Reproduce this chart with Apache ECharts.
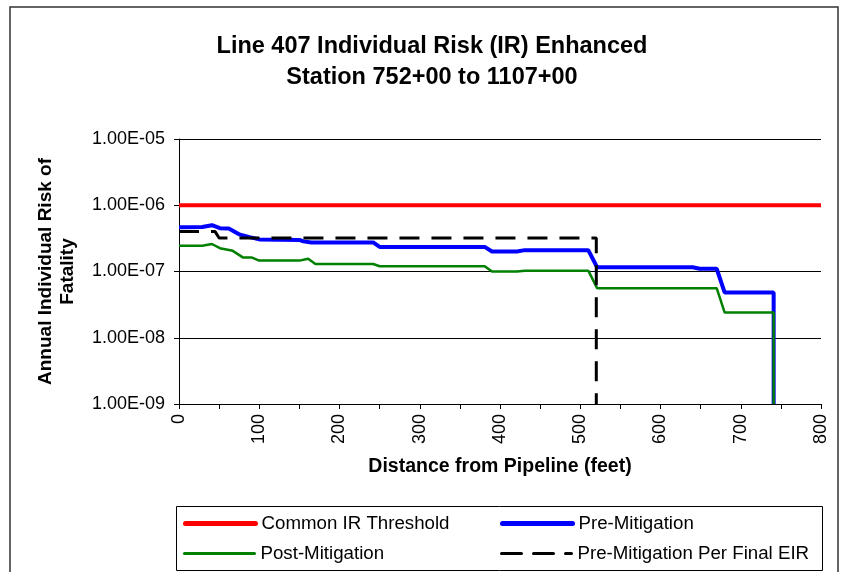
<!DOCTYPE html>
<html>
<head>
<meta charset="utf-8">
<title>Line 407 Individual Risk (IR) Enhanced</title>
<script src="https://cdn.jsdelivr.net/npm/echarts@6/dist/echarts.min.js"></script>
<style>
  html, body { margin: 0; padding: 0; background: #fff; }
  #chart { width: 841px; height: 572px; }
</style>
</head>
<body>
<div id="chart"></div>
<script>
// Distance from pipeline (feet) and annual individual risk for each curve
const thresholdDist = [0, 800];
const thresholdRisk = [1e-6, 1e-6];

const preMitDist = [0, 29, 41, 51, 62, 76, 88, 100, 150, 155, 165, 242, 250, 381, 390, 421, 431, 510, 521, 640, 649, 670, 680, 741, 741];
const preMitRisk = [4.65e-7, 4.7e-7, 5.0e-7, 4.5e-7, 4.45e-7, 3.6e-7, 3.3e-7, 3.05e-7, 3.0e-7, 2.85e-7, 2.75e-7, 2.75e-7, 2.35e-7, 2.35e-7, 2.0e-7, 2.0e-7, 2.1e-7, 2.1e-7, 1.16e-7, 1.16e-7, 1.1e-7, 1.1e-7, 4.8e-8, 4.8e-8, 1e-9];

const postMitDist = [0, 29, 41, 51, 67, 80, 91, 100, 150, 161, 170, 242, 250, 381, 390, 421, 431, 510, 521, 670, 680, 741, 741];
const postMitRisk = [2.45e-7, 2.45e-7, 2.6e-7, 2.25e-7, 2.05e-7, 1.62e-7, 1.62e-7, 1.46e-7, 1.46e-7, 1.56e-7, 1.3e-7, 1.3e-7, 1.2e-7, 1.2e-7, 1.0e-7, 1.0e-7, 1.03e-7, 1.03e-7, 5.6e-8, 5.6e-8, 2.4e-8, 2.4e-8, 1e-9];

const eirDist = [0, 45, 50, 520, 520];
const eirRisk = [4.0e-7, 4.0e-7, 3.2e-7, 3.2e-7, 1e-9];

const xTicks = [0, 100, 200, 300, 400, 500, 600, 700, 800];
const yTicks = [1e-9, 1e-8, 1e-7, 1e-6, 1e-5];

const seriesNames = ['Common IR Threshold', 'Pre-Mitigation', 'Post-Mitigation', 'Pre-Mitigation Per Final EIR'];

const FONT = 'Liberation Sans, Arial, sans-serif';

function pairs(xs, ys) {
  return xs.map((x, i) => [x, ys[i]]);
}

// Excel-style scientific label, e.g. 1.00E-05
function sci(v) {
  const parts = v.toExponential(2).split('e');
  const exp = parseInt(parts[1], 10);
  const sign = exp < 0 ? '-' : '+';
  const digits = String(Math.abs(exp)).padStart(2, '0');
  return parts[0] + 'E' + sign + digits;
}

// One legend entry per component so the four keys sit in a 2 x 2 block
function legendItem(name, left, top, lineWidth, dash) {
  return {
    data: [name],
    left: left,
    top: top,
    orient: 'horizontal',
    itemWidth: 70,
    itemHeight: 14,
    padding: 0,
    selectedMode: false,
    itemStyle: { opacity: 0 },
    lineStyle: { width: lineWidth, type: dash || 'solid', cap: 'round' },
    textStyle: { fontFamily: FONT, fontSize: 18.7, color: '#000', padding: [0, 0, 0, 1] }
  };
}

const chart = echarts.init(document.getElementById('chart'), null, { renderer: 'canvas' });

chart.setOption({
  animation: false,
  backgroundColor: '#fff',
  graphic: [
    {
      type: 'rect',
      shape: { x: 10, y: 7, width: 828, height: 600 },
      style: { fill: 'none', stroke: '#333', lineWidth: 1.5 },
      silent: true
    },
    {
      type: 'rect',
      shape: { x: 176.5, y: 506.5, width: 646, height: 64 },
      style: { fill: 'none', stroke: '#000', lineWidth: 1 },
      silent: true
    },
    {
      type: 'text',
      x: 432,
      y: 31,
      style: {
        text: 'Line 407 Individual Risk (IR) Enhanced\nStation 752+00 to 1107+00',
        align: 'center',
        verticalAlign: 'top',
        fontFamily: FONT,
        fontWeight: 'bold',
        fontSize: 23.5,
        lineHeight: 31,
        fill: '#000'
      }
    }
  ],
  legend: [
    legendItem(seriesNames[0], 183, 514, 5),
    legendItem(seriesNames[1], 500, 514, 5),
    legendItem(seriesNames[2], 183, 544, 3),
    legendItem(seriesNames[3], 500, 544, 3, [20, 12])
  ],
  grid: { left: 179, right: 20, top: 139, bottom: 168, containLabel: false },
  xAxis: {
    type: 'value',
    min: xTicks[0],
    max: xTicks[xTicks.length - 1],
    interval: 100,
    name: 'Distance from Pipeline (feet)',
    nameLocation: 'middle',
    nameGap: 53,
    nameTextStyle: { fontFamily: FONT, fontWeight: 'bold', fontSize: 19.5, color: '#000' },
    axisLine: { onZero: false, lineStyle: { color: '#000', width: 1 } },
    axisTick: { show: true, inside: false, length: 5, lineStyle: { color: '#000' } },
    minorTick: { show: true, splitNumber: 2, length: 5, lineStyle: { color: '#000' } },
    axisLabel: { rotate: 90, margin: 10, fontFamily: FONT, fontSize: 18, color: '#000' },
    splitLine: { show: false }
  },
  yAxis: {
    type: 'log',
    logBase: 10,
    min: yTicks[0],
    max: yTicks[yTicks.length - 1],
    name: 'Annual Individual Risk of\nFatality',
    nameLocation: 'middle',
    nameRotate: 90,
    nameGap: 100,
    nameTextStyle: { fontFamily: FONT, fontWeight: 'bold', fontSize: 19, lineHeight: 22, color: '#000' },
    axisLine: { show: true, lineStyle: { color: '#000', width: 1 } },
    axisTick: { show: true, inside: false, length: 5, lineStyle: { color: '#000' } },
    axisLabel: { margin: 14, fontFamily: FONT, fontSize: 18, color: '#000', formatter: sci },
    splitLine: { show: true, lineStyle: { color: '#000', width: 1 } }
  },
  series: [
    {
      name: seriesNames[0],
      type: 'line',
      data: pairs(thresholdDist, thresholdRisk),
      symbol: 'none',
      z: 3,
      lineStyle: { color: '#ff0000', width: 4 },
      itemStyle: { color: '#ff0000' }
    },
    {
      name: seriesNames[1],
      type: 'line',
      data: pairs(preMitDist, preMitRisk),
      symbol: 'none',
      z: 4,
      lineStyle: { color: '#0000ff', width: 4 },
      itemStyle: { color: '#0000ff' }
    },
    {
      name: seriesNames[2],
      type: 'line',
      data: pairs(postMitDist, postMitRisk),
      symbol: 'none',
      z: 5,
      lineStyle: { color: '#008000', width: 2.5 },
      itemStyle: { color: '#008000' }
    },
    {
      name: seriesNames[3],
      type: 'line',
      data: pairs(eirDist, eirRisk),
      symbol: 'none',
      z: 6,
      lineStyle: { color: '#000', width: 3, type: [20, 12] },
      itemStyle: { color: '#000' }
    }
  ]
});
</script>
</body>
</html>
